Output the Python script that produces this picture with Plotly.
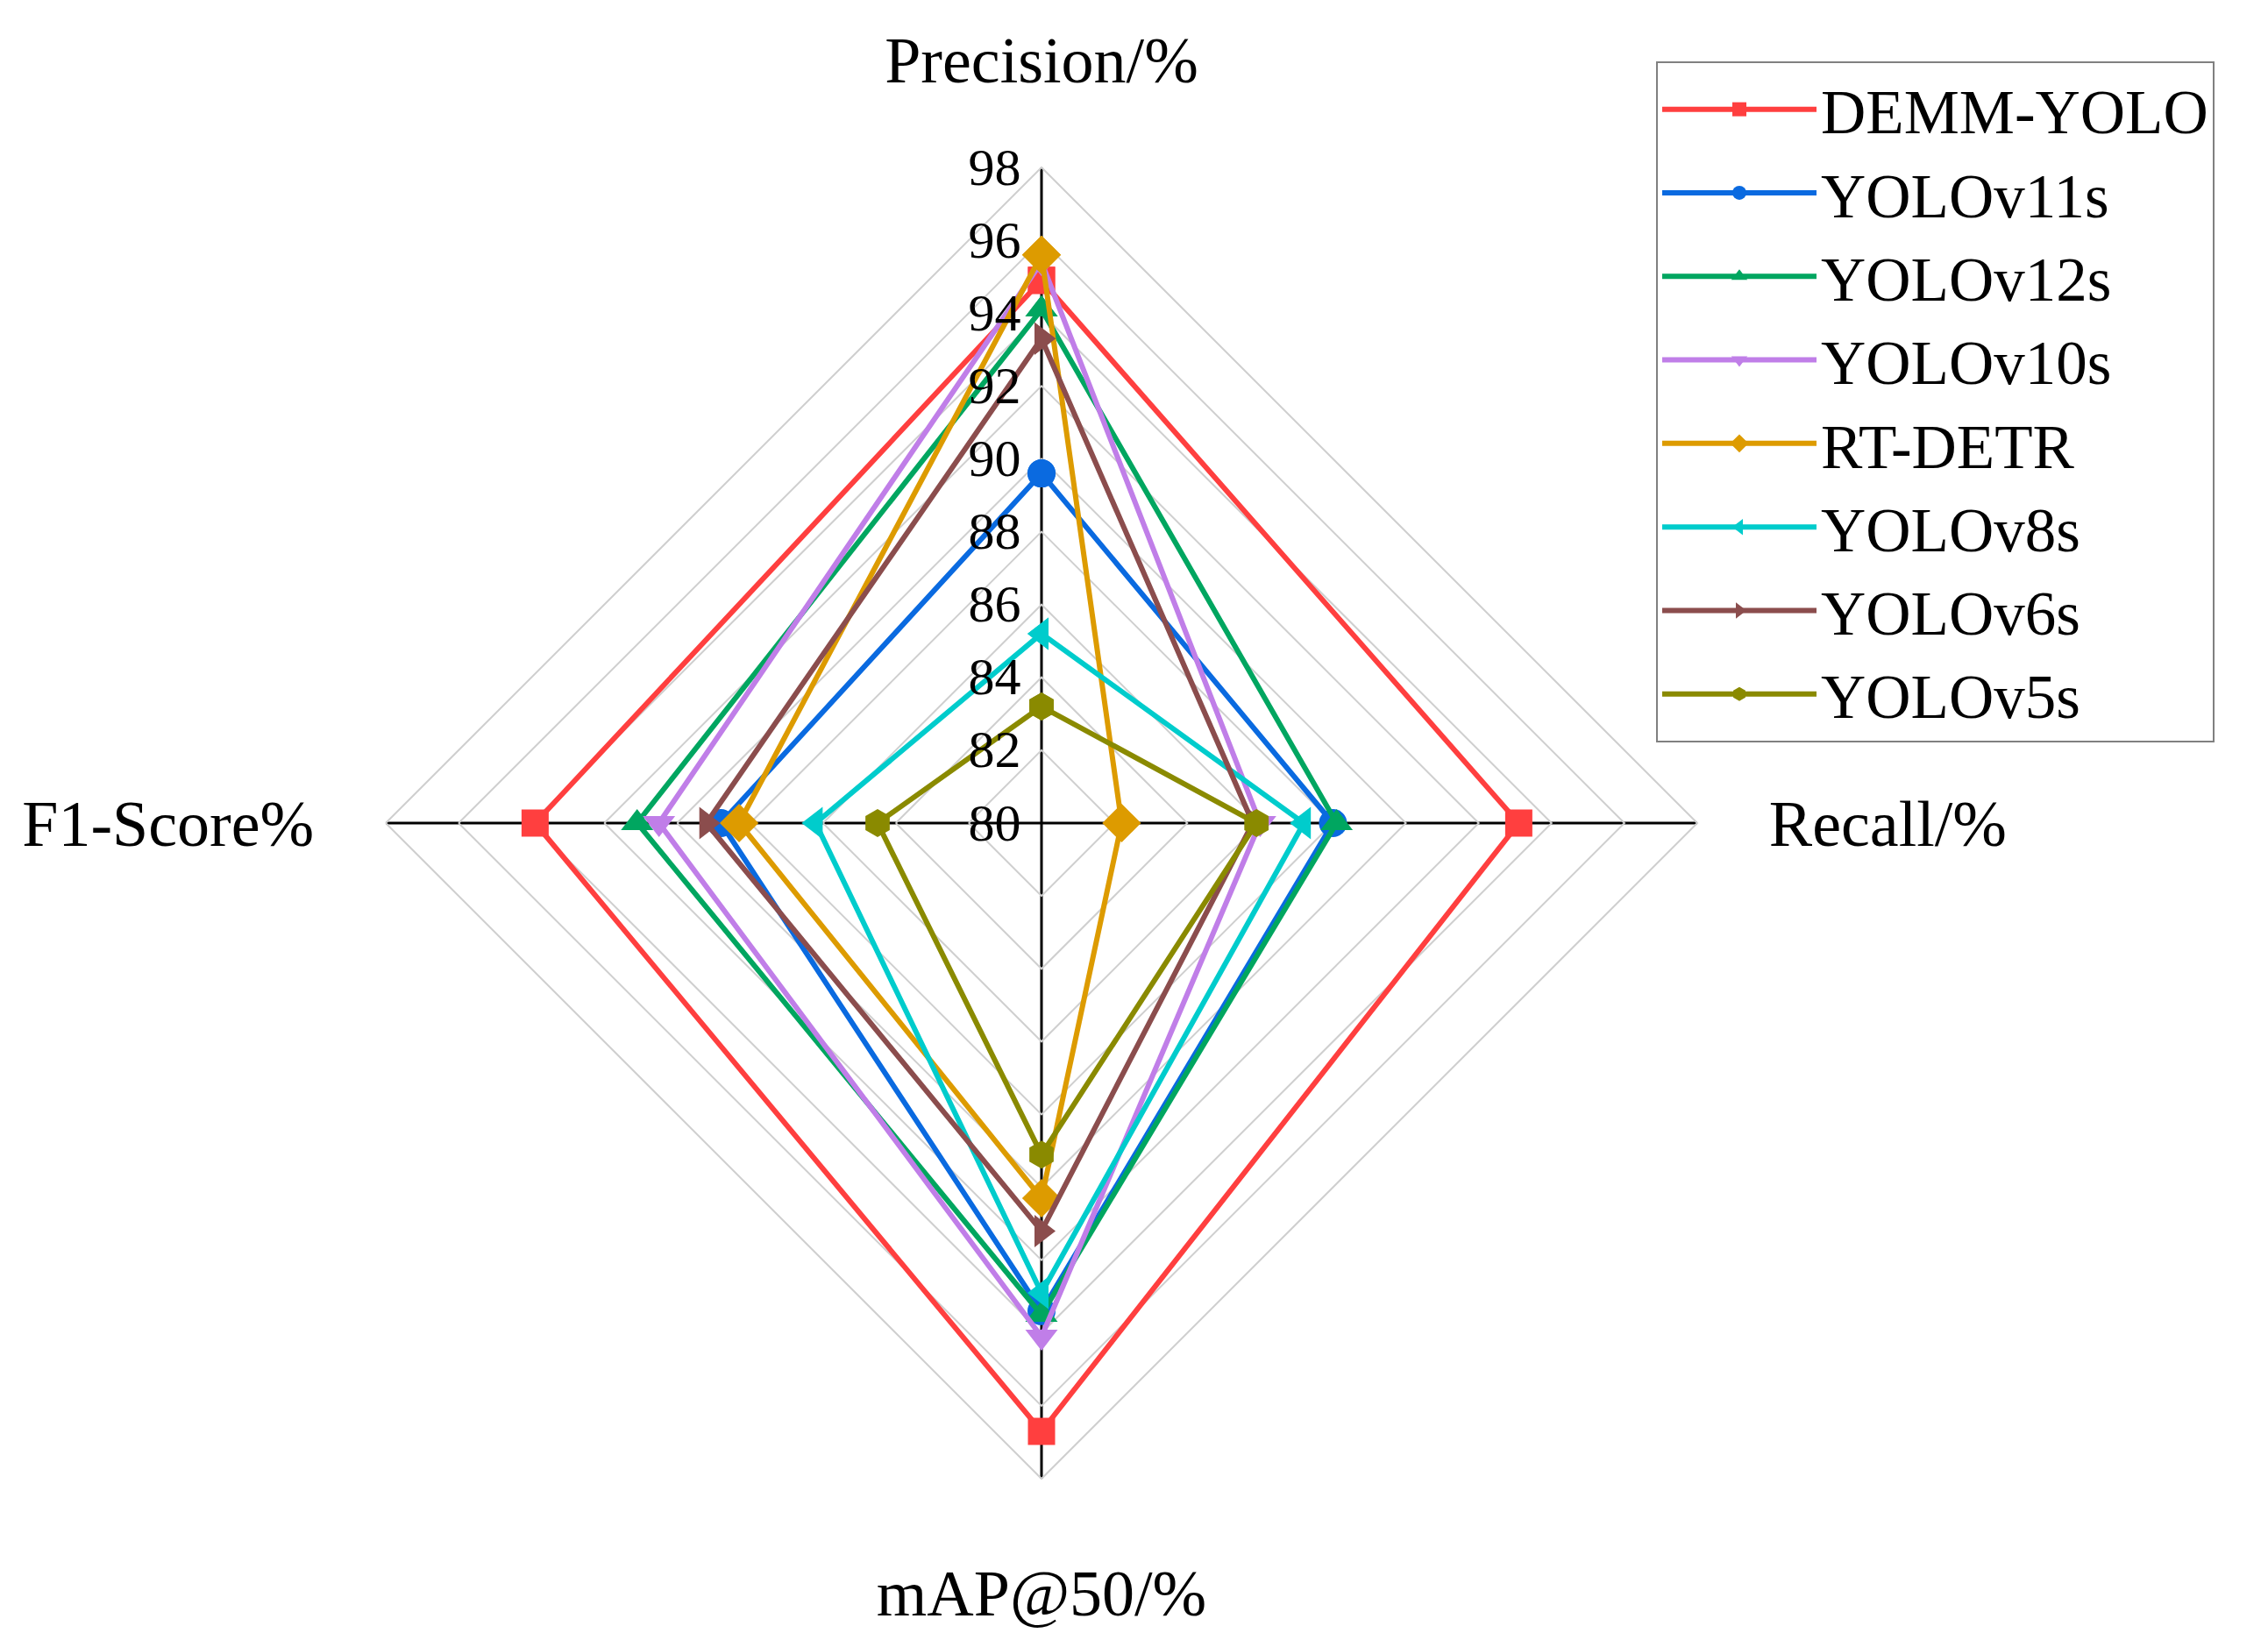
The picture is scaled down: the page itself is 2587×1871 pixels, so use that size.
import plotly.graph_objects as go

# Axis categories (clockwise from top)
metrics = ["Precision/%", "Recall/%", "mAP@50/%", "F1-Score%"]

# Series values: [Precision, Recall, mAP@50, F1-Score]
demm_yolo = [94.9, 93.1, 96.7, 93.9]
yolov11s = [89.6, 88.0, 93.4, 88.8]
yolov12s = [94.1, 88.1, 93.5, 91.1]
yolov10s = [95.4, 86.0, 94.1, 90.5]
rt_detr = [95.6, 82.2, 90.3, 88.3]
yolov8s = [85.2, 87.2, 92.9, 86.2]
yolov6s = [93.3, 85.8, 91.2, 89.2]
yolov5s = [83.2, 85.9, 89.1, 84.5]

model_names = ["DEMM-YOLO", "YOLOv11s", "YOLOv12s", "YOLOv10s",
               "RT-DETR", "YOLOv8s", "YOLOv6s", "YOLOv5s"]
model_values = [demm_yolo, yolov11s, yolov12s, yolov10s,
                rt_detr, yolov8s, yolov6s, yolov5s]

# Radial ticks
radial_ticks = [80, 82, 84, 86, 88, 90, 92, 94, 96, 98]

colors = ["#FF3F3F", "#0A6AE0", "#00A660", "#C07EE8",
          "#DD9B00", "#00CCCC", "#8B4D4D", "#8A8A00"]
symbols = ["square", "circle", "triangle-up", "triangle-down",
           "diamond", "triangle-left", "triangle-right", "hexagon"]
sizes = [31, 32, 32, 32, 34, 32, 32, 32]

FONT = "Liberation Serif"

fig = go.Figure()
for name, vals, col, sym, sz in zip(model_names, model_values, colors, symbols, sizes):
    r = list(vals) + [vals[0]]
    theta = list(metrics) + [metrics[0]]
    fig.add_trace(go.Scatterpolar(
        r=r, theta=theta, name=name, mode="lines+markers",
        line=dict(color=col, width=6),
        marker=dict(symbol=sym, size=sz, color=col, line=dict(width=0)),
    ))

W, H = 2587, 1871
cx, cy, rad = 1180, 931, 748
fig.update_layout(
    width=W, height=H,
    paper_bgcolor="white",
    margin=dict(l=0, r=0, t=0, b=0),
    font=dict(family=FONT, color="black"),
    polar=dict(
        domain=dict(x=[(cx - rad) / W, (cx + rad) / W],
                    y=[(H - cy - rad) / H, (H - cy + rad) / H]),
        gridshape="linear",
        bgcolor="white",
        radialaxis=dict(
            range=[80, 98], tickvals=radial_ticks, ticktext=[str(t) for t in radial_ticks],
            angle=90, side="counterclockwise", tickangle=90,
            showline=False, ticks="outside", ticklen=2, tickcolor="rgba(0,0,0,0)",
            gridcolor="#CFCFCF", gridwidth=2,
            tickfont=dict(size=60, family=FONT, color="black"),
        ),
        angularaxis=dict(
            rotation=90, direction="clockwise",
            categoryorder="array", categoryarray=metrics,
            gridcolor="black", gridwidth=3,
            showline=True, linecolor="#CFCFCF", linewidth=2,
            ticks="outside", ticklen=66, tickcolor="rgba(0,0,0,0)",
            tickfont=dict(size=74, family=FONT, color="black"),
        ),
    ),
    legend=dict(
        x=1881 / W, y=1 - 62 / H, xanchor="left", yanchor="top",
        bordercolor="#808080", borderwidth=2, bgcolor="white",
        font=dict(size=71, family=FONT, color="black"),
        tracegroupgap=0, itemwidth=176,
    ),
)

fig.write_html("out.html")
